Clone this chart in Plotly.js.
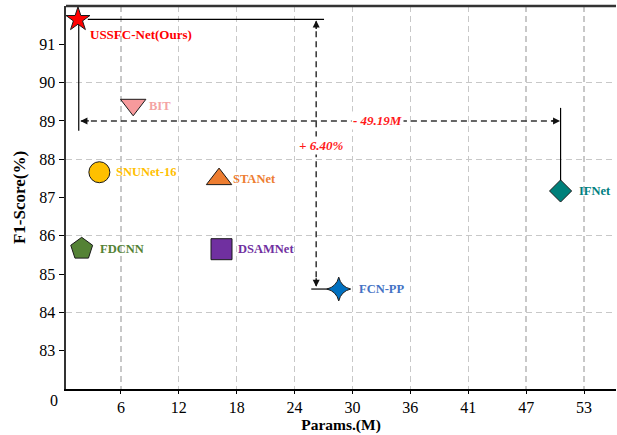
<!DOCTYPE html>
<html>
<head>
<meta charset="utf-8">
<script src="https://cdn.plot.ly/plotly-3.0.1.min.js"></script>
<style>html,body{margin:0;padding:0;background:#fff;}#chart{width:617px;height:435px;}</style>
</head>
<body>
<div id="chart"></div>
<script>
// ---- data ----
const models = ['USSFC-Net(Ours)', 'BIT', 'SNUNet-16', 'STANet', 'FDCNN', 'DSAMNet', 'FCN-PP', 'IFNet'];
const params = [1.52, 7.15, 3.7, 15.9, 1.9, 16.15, 28.1, 50.71];
const f1 = [91.65, 89.42, 87.66, 87.48, 85.66, 85.65, 84.61, 87.17];
const symbols = ['star', 'triangle-down', 'circle', 'triangle-up', 'pentagon', 'square', 'star-diamond', 'diamond'];
const fillColors = ['#FF0000', '#F79A9C', '#FFC000', '#ED7D31', '#548235', '#7030A0', '#0070C0', '#00807A'];
const textColors = ['#FF0000', '#F4A3A3', '#FFC000', '#ED7D31', '#548235', '#7030A0', '#4472C4', '#008080'];
const xTickVals = [5.9, 11.8, 17.7, 23.6, 29.5, 35.4, 41.3, 47.2, 53.1];
const xTickText = ['6', '12', '18', '24', '30', '36', '41', '47', '53'];
const yTickVals = [83, 84, 85, 86, 87, 88, 89, 90, 91];
const yGridVals = [84, 86, 88, 90];
const gainText = '+ 6.40%';

// ---- layout constants ----
const iU = 0, iF = 6, iI = 7;
const arrowX = 25.8;   // vertical comparison arrow position
const arrowY = 89;     // horizontal comparison arrow position
const serif = 'Liberation Serif';
const dashCol = '#333333';

const sizes = [18, 22, 21, 22, 23, 21, 17, 17];
const traces = [];
// solid guide lines
const solid = {mode: 'lines', line: {color: '#000', width: 1.2}, hoverinfo: 'skip', showlegend: false};
traces.push(Object.assign({x: [params[iU] + 1.0, arrowX + 0.8], y: [f1[iU], f1[iU]]}, solid));
traces.push(Object.assign({x: [params[iU] + 0.08, params[iU] + 0.08], y: [f1[iU] - 0.12, arrowY - 0.26]}, solid));
traces.push(Object.assign({x: [params[iI], params[iI]], y: [arrowY + 0.34, f1[iI]]}, solid));
traces.push(Object.assign({x: [arrowX - 0.5, params[iF]], y: [f1[iF], f1[iF]]}, solid));
// dashed arrows
const dashed = {mode: 'lines', line: {color: dashCol, width: 1.5, dash: '6px,4px'}, hoverinfo: 'skip', showlegend: false};
traces.push(Object.assign({x: [params[iU] + 0.3, params[iI] - 0.2], y: [arrowY, arrowY]}, dashed));
traces.push(Object.assign({x: [arrowX, arrowX], y: [f1[iU] - 0.05, f1[iF] + 0.08]}, dashed));
// markers
traces.push({
  x: params, y: f1, mode: 'markers', showlegend: false,
  marker: {symbol: symbols, size: sizes, color: fillColors, opacity: 1, line: {color: '#1a1a1a', width: 1}}
});
// invisible trace for even gridline axis
traces.push({x: [params[0]], y: [f1[0]], yaxis: 'y2', mode: 'markers', marker: {opacity: 0}, hoverinfo: 'skip', showlegend: false});

const offsets = [[10, -15], [14, -1], [15, 0], [12, 0], [16, 0], [14, 0], [18, 0], [16, 0]];
const annotations = models.map((m, i) => ({
  x: params[i], y: f1[i], xref: 'x', yref: 'y', text: '<b>' + m + '</b>', showarrow: false,
  xanchor: 'left', yanchor: 'middle', xshift: offsets[i][0], yshift: offsets[i][1],
  font: {family: serif, size: i === 0 ? 13 : 12.5, color: textColors[i]}
}));
// arrowheads
const head = (x, y, ax, ay) => ({x: x, y: y, xref: 'x', yref: 'y', ax: ax, ay: ay, text: '', showarrow: true,
  arrowhead: 2, arrowsize: 1, arrowwidth: 1.4, arrowcolor: '#111'});
annotations.push(head(params[iU] + 0.25, arrowY, 10, 0));
annotations.push(head(params[iI] - 0.05, arrowY, -10, 0));
annotations.push(head(arrowX, f1[iU] - 0.03, 0, 10));
annotations.push(head(arrowX, f1[iF] + 0.06, 0, -10));
// difference labels
annotations.push({x: 32.1, y: arrowY, xref: 'x', yref: 'y', showarrow: false,
  text: '<b><i>- ' + (params[iI] - params[iU]).toFixed(2) + 'M</i></b>', bgcolor: '#fff',
  font: {family: serif, size: 13, color: '#FF1A1A'}});
annotations.push({x: arrowX + 0.5, y: 88.35, xref: 'x', yref: 'y', showarrow: false,
  text: '<b><i>' + gainText + '</i></b>', bgcolor: '#fff',
  font: {family: serif, size: 13, color: '#FF1A1A'}});
// x tick "0" at the origin corner
annotations.push({x: 0, y: 0, xref: 'paper', yref: 'paper', text: '0', showarrow: false,
  xanchor: 'center', yanchor: 'top', xshift: -12, yshift: -1, font: {family: serif, size: 16, color: '#000'}});

const layout = {
  width: 617, height: 435,
  margin: {l: 66, r: 1, t: 6, b: 46},
  paper_bgcolor: '#fff', plot_bgcolor: '#fff',
  font: {family: serif, color: '#000'},
  xaxis: {
    range: [0.3, 56.36], tickvals: xTickVals, ticktext: xTickText,
    showgrid: true, gridcolor: '#c8c8c8', gridwidth: 1.3, griddash: '6px,4px',
    zeroline: false, showline: true, linecolor: '#000', linewidth: 1.5, mirror: false,
    ticks: 'outside', ticklen: 3, tickcolor: '#000', tickfont: {family: serif, size: 16, color: '#000'},
    title: {text: '<b>Params.(M)</b>', font: {family: serif, size: 15.5, color: '#000'}, standoff: 4}
  },
  yaxis: {
    range: [82, 92], tickvals: yTickVals, showgrid: false, zeroline: false,
    showline: true, linecolor: '#333', linewidth: 2.5,
    ticks: 'outside', ticklen: 5, tickcolor: '#000', tickfont: {family: serif, size: 16, color: '#000'},
    title: {text: '<b>F1-Score(%)</b>', font: {family: serif, size: 17, color: '#000'}, standoff: 10}
  },
  yaxis2: {
    range: [82, 92], overlaying: 'y', tickvals: yGridVals, showticklabels: false, ticks: '',
    showgrid: true, gridcolor: '#c8c8c8', gridwidth: 1.3, griddash: '6px,4px', zeroline: false, showline: false
  },
  shapes: [{type: 'line', xref: 'paper', yref: 'paper', x0: 0, x1: 1, y0: 1, y1: 1, line: {color: '#333', width: 2.5}}],
  annotations: annotations,
  showlegend: false
};
Plotly.newPlot('chart', traces, layout, {displayModeBar: false, staticPlot: true});
</script>
</body>
</html>
